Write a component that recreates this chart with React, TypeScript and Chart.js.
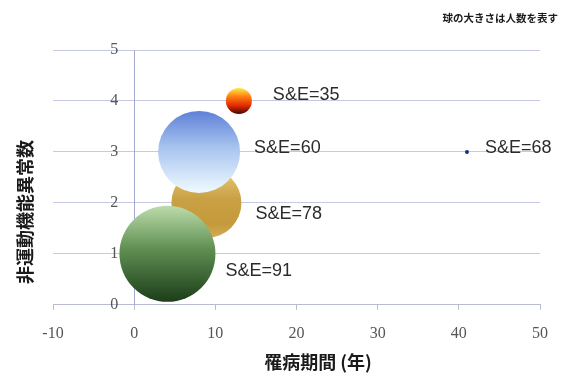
import React, { useEffect, useRef } from "react";
import { Chart, registerables } from "chart.js";

Chart.register(...registerables);

// ---- data; first entry is drawn on top ----
const bubbleLabels = ["S&E=68", "S&E=35", "S&E=91", "S&E=60", "S&E=78"];
const durationYears = [41.0, 12.9, 4.1, 8.0, 8.9];
const nonMotorCounts = [3, 4, 1, 3, 2];
const bubbleSizes = [2, 13, 48, 41, 35];
const xTitle = "罹病期間 (年)";
const yTitle = "非運動機能異常数";
const noteText = "球の大きさは人数を表す";

// ---- styles ----
const gradientStops: [number, string][][] = [
  [[0, "#1c2a82"], [1, "#1c2a82"]],
  [[0, "#ffec45"], [0.35, "#ff7a10"], [0.7, "#dd2600"], [1, "#400a00"]],
  [[0, "#bcdcab"], [0.45, "#5f8f52"], [1, "#1c3d19"]],
  [[0, "#5f80d8"], [0.45, "#a8c4ef"], [1, "#f0fbff"]],
  [[0, "#e9cd7e"], [0.45, "#c9a043"], [0.8, "#c49a3c"], [1, "#d2ad55"]],
];
const labelDx = [16, 21, 10, 14, 14];
const labelDy = [-4, -6, 17, -4, 11];

const SERIF = '"Liberation Serif", "DejaVu Serif", serif';
const SANS = '"Liberation Sans", Arial, sans-serif';
const CJK = '"Noto Sans CJK JP", "Noto Sans CJK SC", sans-serif';

const PLOT_RIGHT = 540;

const annotPlugin = {
  id: "annot",
  afterDatasetsDraw(chart: any) {
    const ctx = chart.ctx as CanvasRenderingContext2D;
    ctx.save();
    ctx.font = `18px ${SANS}`;
    ctx.fillStyle = "#2b2b2b";
    ctx.textAlign = "left";
    ctx.textBaseline = "middle";
    bubbleLabels.forEach((lab, i) => {
      const el = chart.getDatasetMeta(i).data[0];
      if (!el) return;
      const r = el.options.radius;
      ctx.fillText(lab, el.x + r + labelDx[i], el.y + labelDy[i]);
    });
    // x title
    ctx.font = `bold 18px ${CJK}`;
    ctx.fillStyle = "#1a1a1a";
    ctx.textAlign = "center";
    ctx.fillText(xTitle, 318, 362);
    // y title
    ctx.save();
    ctx.translate(25, 212);
    ctx.rotate(-Math.PI / 2);
    ctx.fillText(yTitle, 0, 0);
    ctx.restore();
    // note
    ctx.font = `bold 10.5px ${CJK}`;
    ctx.textAlign = "right";
    ctx.fillText(noteText, 558, 18);
    ctx.restore();
  },
};

export default function App() {
  const ref = useRef<HTMLCanvasElement>(null);
  const wrapRef = useRef<HTMLDivElement>(null);
  useEffect(() => {
    if (!ref.current) return;
    const datasets = bubbleLabels.map((lab, i) => ({
      label: lab,
      data: [{ x: durationYears[i], y: nonMotorCounts[i], r: bubbleSizes[i] }],
      borderWidth: 0,
      hoverRadius: 0,
      backgroundColor: (c: any) => {
        const stops = gradientStops[i];
        const raw = c.raw;
        const ys = c.chart.scales && c.chart.scales.y;
        if (!raw || !ys) return stops[1][1];
        const yc = ys.getPixelForValue(raw.y);
        if (!isFinite(yc)) return stops[1][1];
        const g = c.chart.ctx.createLinearGradient(0, yc - raw.r, 0, yc + raw.r);
        stops.forEach(([o, col]) => g.addColorStop(o, col));
        return g;
      },
    }));
    const chart = new Chart(ref.current, {
      type: "bubble",
      data: { datasets },
      plugins: [annotPlugin],
      options: {
        animation: false,
        responsive: true,
        maintainAspectRatio: false,
        events: [],
        layout: { padding: { left: 53, right: 26, top: 50, bottom: 18 } },
        plugins: { legend: { display: false }, tooltip: { enabled: false } },
        scales: {
          x: {
            type: "linear",
            position: "bottom",
            min: -10,
            max: 50,
            ticks: { stepSize: 10, color: "#555", font: { family: SERIF, size: 16 }, padding: 14 },
            grid: { drawOnChartArea: false, drawTicks: true, tickLength: 5, color: "#b8bcd2" },
            border: { color: "#b8bcd2" },
          },
          y: {
            type: "linear",
            position: { x: 0 } as any,
            min: 0,
            max: 5,
            afterFit: (s: any) => {
              s.width = 0;
            },
            ticks: {
              stepSize: 1,
              color: "#555",
              font: { family: SERIF, size: 16 },
              callback: (v: any) => `${v}\u2003`,
            },
            grid: { drawTicks: false, color: "#c6c9e3" },
            border: { color: "#a3a8cc" },
          },
        },
      },
    });
    chart.update();
    // widen the (clipped) canvas so the plot's right edge lands where the reference has it
    const delta = PLOT_RIGHT - chart.chartArea.right;
    if (Math.abs(delta) > 0.5 && wrapRef.current) {
      const w = 566 + delta;
      wrapRef.current.style.width = `${w}px`;
      chart.resize(w, 375);
    }
    return () => chart.destroy();
  }, []);
  return (
    <div style={{ position: "fixed", left: 0, top: 0, width: 566, height: 375, overflow: "hidden", background: "#fff" }}>
      <div ref={wrapRef} style={{ position: "absolute", left: 0, top: 0, width: 566, height: 375 }}>
        <canvas ref={ref} />
      </div>
    </div>
  );
}
